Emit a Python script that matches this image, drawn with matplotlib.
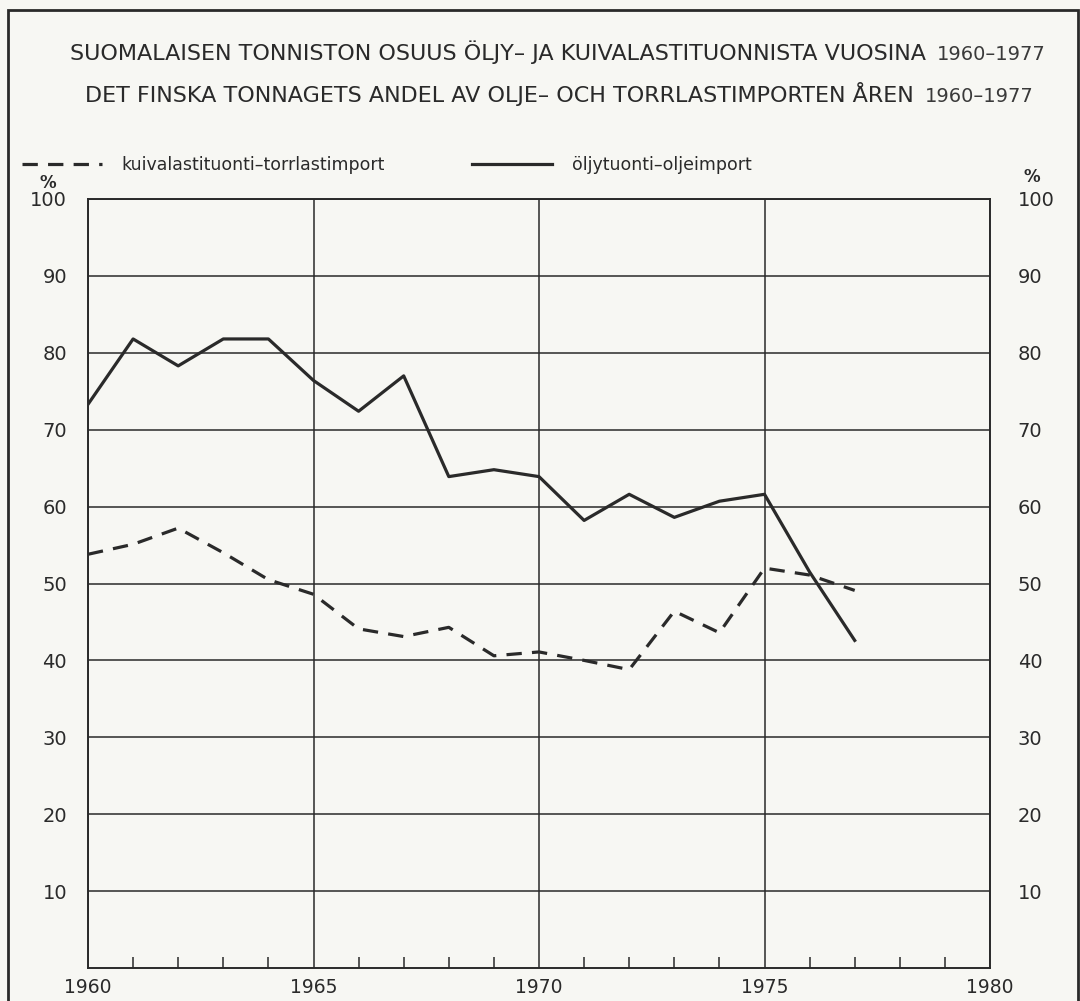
import matplotlib
matplotlib.use("Agg")
import matplotlib.pyplot as plt
from matplotlib.patches import Rectangle

# === Data ===
years = list(range(1960, 1978))
oil_share = [73.3, 81.8, 78.3, 81.8, 81.8, 76.4, 72.4, 77.0, 63.9, 64.8,
             63.9, 58.2, 61.6, 58.6, 60.7, 61.6, 51.5, 42.6]
dry_share = [53.8, 55.1, 57.2, 54.0, 50.5, 48.6, 44.1, 43.1, 44.3, 40.6,
             41.1, 40.0, 38.8, 46.4, 43.6, 52.0, 51.1, 49.1]

y_ticks = [10, 20, 30, 40, 50, 60, 70, 80, 90, 100]
x_ticks = [1960, 1965, 1970, 1975, 1980]

title_fi = "SUOMALAISEN TONNISTON OSUUS ÖLJY– JA KUIVALASTITUONNISTA VUOSINA"
title_sv = "DET FINSKA TONNAGETS ANDEL AV OLJE– OCH TORRLASTIMPORTEN ÅREN"
title_years = "1960–1977"
label_dry = "kuivalastituonti–torrlastimport"
label_oil = "öljytuonti–oljeimport"

# === Styling ===
PAPER = "#f7f7f3"
INK = "#2a2a2a"
TEXT_FONT = ["DejaVu Sans"]
NUM_FONT = ["DejaVu Sans"]

fig = plt.figure(figsize=(10.8, 10.01), dpi=100)
fig.patch.set_facecolor(PAPER)
ax = fig.add_axes([88 / 1080, 1 - 968 / 1001, 902 / 1080, 769 / 1001])
ax.set_facecolor(PAPER)

dry_line, = ax.plot(years, dry_share, color=INK, lw=2.3, dashes=(4.8, 3.2),
                    solid_capstyle="butt", dash_capstyle="butt", zorder=3)
oil_line, = ax.plot(years, oil_share, color=INK, lw=2.3, zorder=3)

ax.set_xlim(1960, 1980)
ax.set_ylim(0, 100)
ax.set_xticks(x_ticks)
ax.set_xticks(range(1960, 1981), minor=True)
ax.set_yticks(y_ticks)

ax.grid(True, which="major", color=INK, lw=1.1)
ax.set_axisbelow(True)
for side in ax.spines.values():
    side.set_color(INK)
    side.set_linewidth(1.4)

ax.tick_params(axis="x", which="major", length=0, pad=7, labelsize=13.5,
               colors=INK)
ax.tick_params(axis="x", which="minor", direction="in", length=8, width=1.1,
               color=INK)
ax.tick_params(axis="y", which="major", length=0, pad=15, labelsize=14,
               colors=INK)
for lab in ax.get_xticklabels() + ax.get_yticklabels():
    lab.set_family(NUM_FONT)

right = ax.secondary_yaxis("right")
right.set_yticks(y_ticks)
right.tick_params(axis="y", length=0, pad=20, labelsize=14, colors=INK)
right.spines["right"].set_visible(False)
for lab in right.get_yticklabels():
    lab.set_family(NUM_FONT)

# percent signs above the value scales
fig.text(48 / 1080, 1 - 183 / 1001, "%", ha="center", va="center",
         fontsize=12, fontweight="bold", color=INK, family=NUM_FONT)
fig.text(1032 / 1080, 1 - 177 / 1001, "%", ha="center", va="center",
         fontsize=12, fontweight="bold", color=INK, family=NUM_FONT)

# titles: main words plus the lighter year span after them
for text, x0, base in [(title_fi, 70, 60), (title_sv, 85, 102)]:
    t = fig.text(x0 / 1080, 1 - base / 1001, text, ha="left", va="baseline",
                 fontsize=16, color=INK, family=TEXT_FONT)
    ax.annotate(title_years, xy=(1, 0), xycoords=t, xytext=(8, 0),
                textcoords="offset points", ha="left", va="bottom",
                fontsize=14, color="#3a3a3a", family=TEXT_FONT,
                annotation_clip=False)

leg = fig.legend([dry_line, oil_line], [label_dry, label_oil],
                 loc="center left", bbox_to_anchor=(22 / 1080, 1 - 165 / 1001),
                 ncol=2, frameon=False, borderpad=0, borderaxespad=0,
                 handlelength=4.6, handletextpad=1.15, columnspacing=5.0,
                 prop={"family": TEXT_FONT, "size": 12.5})
for txt in leg.get_texts():
    txt.set_color(INK)

# outer frame of the printed figure (runs off the bottom edge)
fig.add_artist(Rectangle((8 / 1080, -0.05), 1070 / 1080, 1.05 - 10 / 1001,
                         transform=fig.transFigure, fill=False,
                         edgecolor=INK, lw=2.0, clip_on=False))

fig.savefig("out.png", dpi=100, facecolor=PAPER)
